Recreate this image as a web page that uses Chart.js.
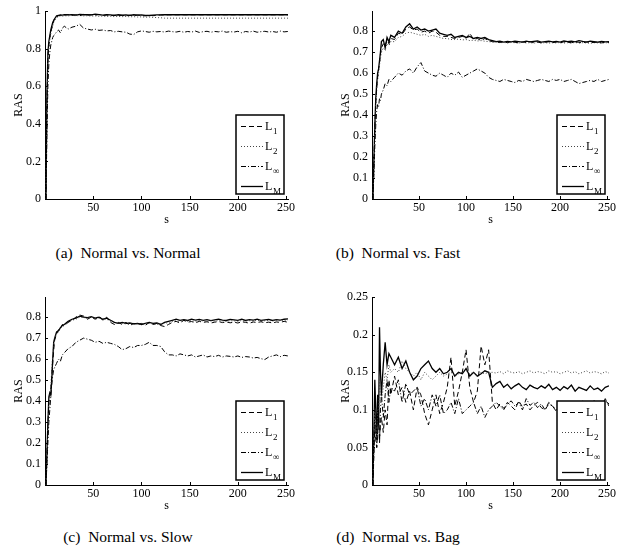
<!DOCTYPE html>
<html>
<head>
<meta charset="utf-8">
<script src="https://cdn.jsdelivr.net/npm/chart.js@4.4.0/dist/chart.umd.min.js"></script>
<style>
  body { margin: 0; background: #fff; width: 634px; height: 550px; position: relative; overflow: hidden; font-family: 'Liberation Serif', serif; }
  canvas { position: absolute; }
  .cap { position: absolute; width: 300px; text-align: center; font-size: 15.5px; line-height: 18px; color: #000; white-space: pre; }
</style>
</head>
<body>
<canvas id="chart-a" width="300" height="231" style="left:0;top:0"></canvas>
<canvas id="chart-b" width="295" height="231" style="left:327px;top:0"></canvas>
<canvas id="chart-c" width="300" height="231" style="left:0;top:286px"></canvas>
<canvas id="chart-d" width="295" height="231" style="left:327px;top:286px"></canvas>
<div class="cap" style="left:-22px;top:244px">(a)  Normal vs. Normal</div>
<div class="cap" style="left:248px;top:244px">(b)  Normal vs. Fast</div>
<div class="cap" style="left:-22px;top:528px">(c)  Normal vs. Slow</div>
<div class="cap" style="left:248px;top:528px">(d)  Normal vs. Bag</div>
<script>
// s values shared by every panel
var sValues = [1, 2, 3, 4, 5, 6, 7, 8, 9, 10,
  12, 14, 16, 18, 20,
  24, 28, 32, 36, 40, 44, 48, 52, 56, 60, 64, 68, 72, 76,
  80, 84, 88, 92, 96, 100, 104, 108, 112, 116, 120, 124, 128,
  132, 136, 140, 144, 148, 152, 156, 160, 164, 168, 172, 176, 180, 184, 188, 192,
  196, 200, 204, 208, 212, 216, 220, 224, 228, 232, 236, 240, 244, 248, 252];
var sTicks = [50, 100, 150, 200, 250];

var seriesNames = ['L1', 'L2', 'L\u221e', 'LM'];
var seriesSubs = ['1', '2', '\u221e', 'M'];

// (a) Normal vs. Normal
var normalL1 = [0, .5, .74, .82, .86, .89, .91, .93, .95, .96,
  .97, .976, .978, .975, .98,
  .982, .978, .981, .976, .983, .979, .981, .978, .983, .977, .98, .976, .979, .977,
  .978, .975, .979, .976, .98, .977, .975, .979, .976, .978, .98, .98, .981,
  .981, .981, .981, .981, .981, .981, .981, .981, .981, .981, .981, .981, .981, .981, .981, .981,
  .981, .981, .981, .981, .981, .981, .981, .981, .981, .981, .981, .981, .981, .981, .981];
var normalL2 = [0, .5, .72, .8, .85, .88, .9, .92, .94, .95,
  .965, .972, .975, .973, .976,
  .975, .978, .976, .977, .975, .976, .974, .975, .973, .974, .972, .973, .971, .972,
  .971, .972, .97, .971, .969, .97, .968, .969, .967, .966, .965, .963, .963,
  .963, .963, .963, .963, .963, .963, .963, .963, .963, .963, .963, .963, .963, .963, .963, .963,
  .963, .963, .963, .963, .963, .963, .963, .963, .963, .963, .963, .963, .963, .963, .963];
var normalLinf = [0, .35, .6, .72, .78, .82, .84, .86, .87, .875,
  .89, .9, .885, .91, .92,
  .905, .915, .92, .93, .91, .905, .9, .904, .898, .9, .895, .897, .89, .893,
  .89, .888, .878, .876, .89, .895, .892, .888, .893, .89, .892, .889, .894,
  .891, .889, .893, .888, .892, .889, .894, .887, .891, .893, .888, .892, .89, .894, .888, .891,
  .889, .893, .885, .892, .889, .894, .888, .891, .893, .889, .892, .888, .894, .89, .892];
var normalLM = [0, .55, .78, .84, .87, .9, .92, .94, .95, .96,
  .975, .978, .98, .979, .981,
  .98, .982, .979, .983, .981, .982, .98, .984, .982, .979, .981, .98, .978, .981,
  .979, .98, .978, .981, .979, .98, .978, .977, .979, .98, .98, .981, .981,
  .981, .981, .981, .981, .981, .981, .981, .981, .981, .981, .981, .981, .981, .981, .981, .981,
  .981, .981, .981, .981, .981, .981, .981, .981, .981, .981, .981, .981, .981, .981, .981];

// (b) Normal vs. Fast
var fastL1 = [0, .17, .34, .46, .53, .58, .62, .65, .69, .72,
  .74, .73, .76, .74, .765,
  .76, .79, .785, .81, .82, .805, .81, .795, .8, .79, .8, .795, .78, .775,
  .775, .77, .765, .77, .775, .765, .79, .76, .765, .755, .765, .755, .75,
  .748, .746, .749, .745, .75, .747, .744, .749, .746, .75, .745, .748, .744, .747, .749, .745,
  .748, .744, .749, .746, .745, .748, .747, .743, .749, .745, .746, .748, .744, .747, .745];
var fastL2 = [0, .16, .32, .44, .52, .57, .6, .64, .67, .7,
  .72, .71, .74, .73, .75,
  .75, .77, .775, .79, .795, .79, .785, .78, .785, .775, .78, .775, .77, .765,
  .765, .76, .76, .762, .758, .76, .755, .757, .753, .755, .752, .75, .748,
  .747, .745, .746, .744, .746, .745, .743, .746, .744, .745, .743, .746, .744, .745, .743, .745,
  .744, .746, .743, .745, .744, .746, .743, .745, .744, .742, .745, .744, .743, .745, .744];
var fastLinf = [0, .12, .25, .35, .42, .45, .44, .48, .47, .5,
  .52, .55, .54, .57, .56,
  .58, .6, .59, .61, .62, .6, .63, .65, .61, .6, .59, .585, .6, .59,
  .58, .6, .59, .605, .58, .59, .6, .61, .62, .61, .6, .58, .57,
  .565, .56, .57, .565, .56, .555, .565, .56, .57, .565, .56, .565, .57, .565, .56, .57,
  .565, .57, .56, .565, .57, .56, .55, .555, .56, .565, .56, .57, .56, .565, .57];
var fastLM = [0, .18, .35, .48, .55, .6, .62, .66, .7, .75,
  .76, .72, .77, .75, .78,
  .77, .8, .79, .82, .835, .81, .82, .805, .81, .8, .805, .81, .79, .785,
  .78, .785, .77, .775, .78, .77, .775, .765, .77, .765, .77, .76, .755,
  .75, .752, .748, .751, .749, .752, .75, .748, .752, .749, .751, .753, .748, .75, .752, .749,
  .751, .748, .753, .75, .752, .749, .755, .751, .748, .752, .75, .747, .751, .749, .75];

// (c) Normal vs. Slow
var slowL1 = [0, .14, .28, .4, .42, .45, .52, .58, .64, .69,
  .72, .74, .745, .765, .76,
  .775, .785, .8, .81, .805, .79, .8, .79, .805, .785, .8, .775, .765, .775,
  .765, .775, .76, .77, .765, .77, .76, .775, .765, .77, .76, .755, .765,
  .775, .78, .772, .785, .776, .779, .773, .78, .775, .778, .772, .776, .779, .774, .777, .773,
  .776, .772, .778, .775, .771, .777, .774, .778, .773, .776, .772, .777, .775, .78, .775];
var slowL2 = [0, .13, .27, .38, .42, .46, .55, .62, .67, .7,
  .72, .73, .745, .755, .76,
  .775, .785, .79, .8, .798, .795, .8, .79, .795, .79, .79, .78, .775, .77,
  .77, .768, .77, .765, .767, .765, .768, .77, .768, .765, .768, .77, .775,
  .78, .782, .78, .784, .781, .783, .78, .784, .782, .78, .783, .781, .784, .782, .78, .783,
  .782, .78, .784, .781, .783, .782, .785, .781, .783, .784, .782, .785, .783, .786, .785];
var slowLinf = [0, .1, .2, .3, .36, .42, .48, .52, .55, .56,
  .58, .6, .59, .62, .63,
  .65, .66, .68, .69, .7, .695, .69, .68, .685, .675, .68, .675, .67, .66,
  .645, .65, .66, .655, .665, .665, .67, .68, .665, .665, .66, .635, .62,
  .62, .615, .625, .62, .615, .62, .61, .615, .62, .61, .615, .612, .618, .61, .615, .613,
  .61, .615, .608, .612, .61, .605, .608, .602, .598, .61, .615, .62, .612, .618, .615];
var slowLM = [0, .15, .3, .42, .44, .43, .5, .6, .68, .7,
  .73, .735, .75, .76, .765,
  .78, .79, .795, .805, .8, .798, .802, .795, .8, .79, .795, .785, .775, .77,
  .775, .77, .772, .768, .77, .765, .77, .775, .77, .772, .765, .775, .78,
  .785, .79, .785, .788, .784, .79, .786, .789, .785, .788, .783, .787, .79, .786, .784, .789,
  .787, .785, .79, .784, .788, .786, .79, .785, .787, .789, .784, .788, .786, .79, .792];

// (d) Normal vs. Bag
var bagL1 = [0, .04, .08, .06, .05, .07, .1, .06, .08, .09,
  .07, .1, .08, .14, .12,
  .145, .12, .13, .11, .125, .1, .13, .12, .095, .08, .1, .12, .095, .11,
  .13, .17, .105, .125, .15, .18, .13, .11, .125, .185, .16, .18, .11,
  .1, .108, .102, .11, .105, .1, .112, .104, .108, .1, .106, .11, .103, .1, .108, .105,
  .1, .105, .098, .107, .1, .104, .1, .11, .102, .106, .1, .108, .104, .115, .105];
var bagL2 = [0, .05, .1, .08, .06, .1, .09, .14, .12, .11,
  .13, .15, .14, .16, .15,
  .155, .15, .165, .155, .15, .145, .15, .14, .15, .145, .14, .145, .15, .145,
  .148, .15, .145, .148, .15, .152, .148, .15, .145, .15, .148, .15, .15,
  .149, .151, .148, .152, .15, .149, .151, .148, .15, .152, .149, .151, .15, .148, .152, .15,
  .151, .148, .15, .152, .149, .151, .148, .15, .152, .149, .151, .15, .148, .151, .149];
var bagLinf = [0, .06, .1, .08, .05, .07, .09, .055, .1, .12,
  .09, .12, .14, .11, .13,
  .125, .14, .11, .135, .12, .125, .13, .105, .115, .1, .12, .105, .12, .095,
  .1, .11, .095, .115, .095, .1, .105, .11, .095, .105, .09, .1, .105,
  .11, .105, .1, .108, .112, .105, .11, .1, .115, .106, .11, .103, .108, .1, .11, .105,
  .098, .105, .1, .11, .106, .095, .105, .112, .1, .108, .113, .1, .107, .112, .108];
var bagLM = [0, .07, .14, .1, .06, .12, .08, .21, .15, .12,
  .16, .19, .16, .175, .17,
  .16, .17, .155, .165, .15, .14, .145, .155, .16, .165, .155, .15, .155, .148,
  .15, .155, .145, .15, .148, .155, .145, .15, .145, .148, .152, .15, .13,
  .135, .138, .13, .134, .128, .132, .135, .13, .127, .133, .13, .128, .132, .129, .134, .127,
  .13, .126, .131, .128, .133, .125, .13, .128, .126, .132, .127, .129, .125, .13, .132];

var fontFamily = "'Liberation Serif', 'Times New Roman', serif";
var lineStyles = [
  {dash: [5, 3], color: '#000', width: 1},
  {dash: [1, 2], color: '#444', width: 1},
  {dash: [5, 2, 1, 2], color: '#000', width: 1},
  {dash: [], color: '#000', width: 1.3}
];

// matlab style ticks pointing into the plot
var inwardTicks = {
  id: 'inwardTicks',
  afterDraw: function(chart) {
    var ctx = chart.ctx, area = chart.chartArea;
    var xs = chart.scales.x, ys = chart.scales.y;
    ctx.save();
    ctx.strokeStyle = '#000';
    ctx.lineWidth = 1;
    xs.ticks.forEach(function(t) {
      var px = Math.round(xs.getPixelForValue(t.value)) + 0.5;
      ctx.beginPath(); ctx.moveTo(px, area.bottom); ctx.lineTo(px, area.bottom - 3); ctx.stroke();
    });
    ys.ticks.forEach(function(t) {
      var py = Math.round(ys.getPixelForValue(t.value)) + 0.5;
      ctx.beginPath(); ctx.moveTo(area.left, py); ctx.lineTo(area.left + 3, py); ctx.stroke();
    });
    ctx.restore();
  }
};

// boxed legend in the lower right corner of the plot
var insetLegend = {
  id: 'insetLegend',
  afterDraw: function(chart) {
    var ctx = chart.ctx, area = chart.chartArea;
    var w = 48, h = 79;
    var x0 = area.right - 4 - w, y0 = area.bottom - 5 - h;
    ctx.save();
    ctx.fillStyle = '#fff';
    ctx.fillRect(x0, y0, w, h);
    ctx.strokeStyle = '#000';
    ctx.lineWidth = 1.5;
    ctx.strokeRect(x0, y0, w, h);
    chart.data.datasets.forEach(function(ds, i) {
      var y = Math.round(y0 + 11 + i * 20) + 0.5;
      ctx.setLineDash(ds.borderDash || []);
      ctx.strokeStyle = ds.borderColor;
      ctx.lineWidth = ds.borderWidth;
      ctx.beginPath(); ctx.moveTo(x0 + 5, y); ctx.lineTo(x0 + 27, y); ctx.stroke();
      ctx.setLineDash([]);
      ctx.fillStyle = '#000';
      ctx.textAlign = 'left';
      ctx.textBaseline = 'middle';
      ctx.font = '12px ' + fontFamily;
      ctx.fillText('L', x0 + 29, y);
      ctx.font = '9px ' + fontFamily;
      ctx.fillText(ds.sub, x0 + 37, y + 5);
    });
    ctx.restore();
  }
};

function makePanel(id, yMax, yStep, rightPad, values) {
  var el = document.getElementById(id);
  if(!el) return;
  var datasets = values.map(function(vals, k) {
    return {
      label: seriesNames[k],
      sub: seriesSubs[k],
      data: sValues.map(function(s, i) { return {x: s, y: vals[i]}; }),
      borderColor: lineStyles[k].color,
      borderWidth: lineStyles[k].width,
      borderDash: lineStyles[k].dash,
      pointRadius: 0,
      tension: 0,
      fill: false
    };
  });
  new Chart(el, {
    type: 'line',
    data: {datasets: datasets},
    options: {
      responsive: false,
      animation: false,
      events: [],
      layout: {padding: {top: 9, right: rightPad, bottom: 0, left: 0}},
      plugins: {legend: {display: false}, tooltip: {enabled: false}},
      scales: {
        x: {
          type: 'linear',
          min: 0,
          max: 252,
          border: {color: '#000', width: 1},
          grid: {display: false, drawTicks: false},
          ticks: {
            padding: 2,
            maxRotation: 0,
            autoSkip: false,
            color: '#000',
            font: {family: fontFamily, size: 12}
          },
          afterBuildTicks: function(scale) {
            scale.ticks = sTicks.map(function(v) { return {value: v}; });
          },
          title: {display: true, text: 's', color: '#000', font: {family: fontFamily, size: 12}, padding: {top: 0, bottom: 4}},
          afterFit: function(scale) { scale.height = 32; }
        },
        y: {
          type: 'linear',
          min: 0,
          max: yMax,
          border: {color: '#000', width: 1},
          grid: {display: false, drawTicks: false},
          ticks: {
            stepSize: yStep,
            includeBounds: false,
            padding: 4,
            color: '#000',
            font: {family: fontFamily, size: 12},
            callback: function(v) { return String(+v.toFixed(3)); }
          },
          title: {display: true, text: 'RAS', color: '#000', font: {family: fontFamily, size: 12}, padding: {top: 12, bottom: 0}},
          afterFit: function(scale) { scale.width = 45; }
        }
      }
    },
    plugins: [inwardTicks, insetLegend]
  });
}

makePanel('chart-a', 1, 0.2, 12, [normalL1, normalL2, normalLinf, normalLM]);
makePanel('chart-b', 0.895, 0.1, 13, [fastL1, fastL2, fastLinf, fastLM]);
makePanel('chart-c', 0.895, 0.1, 12, [slowL1, slowL2, slowLinf, slowLM]);
makePanel('chart-d', 0.25, 0.05, 13, [bagL1, bagL2, bagLinf, bagLM]);
</script>
</body>
</html>
